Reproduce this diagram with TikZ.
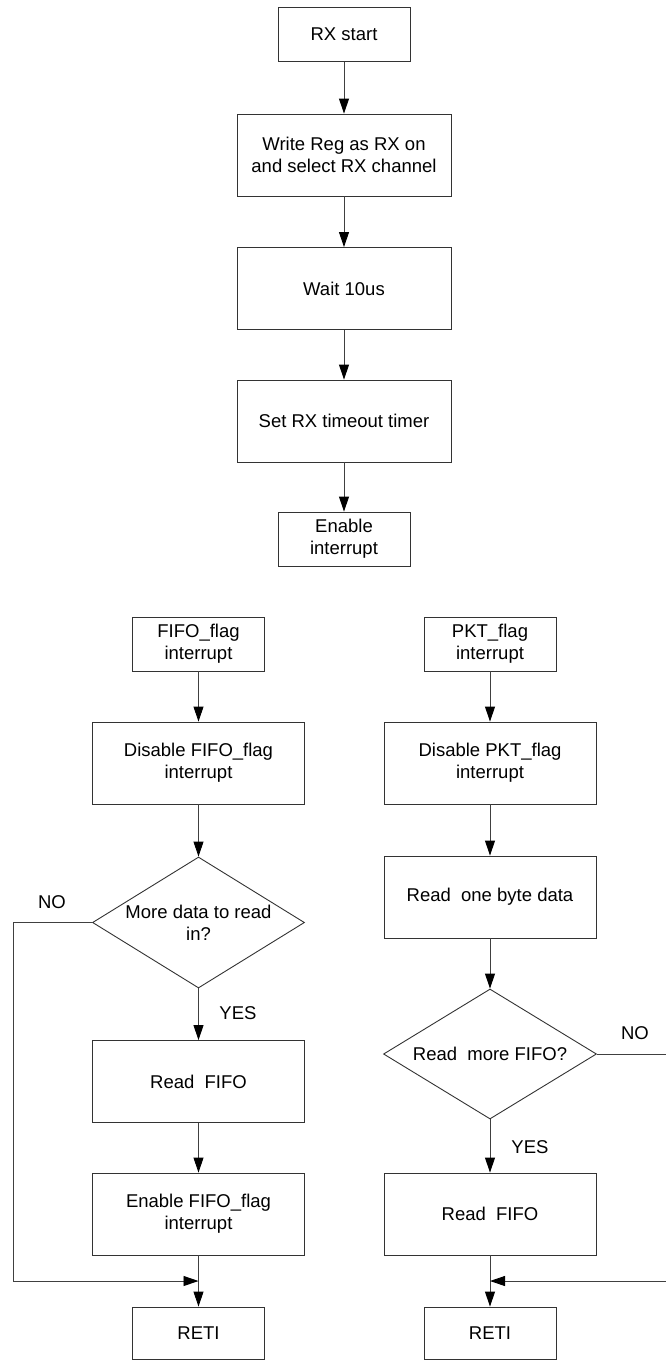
\documentclass[tikz,border=0pt]{standalone}
\usepackage{fontspec}
\setmainfont{Liberation Sans}
\usetikzlibrary{arrows.meta, shapes.geometric, positioning}

\tikzset{
  box/.style={draw=black!80, line width=0.9pt, minimum width=212pt, minimum height=82pt, align=center, inner sep=2pt},
  smallbox/.style={box, minimum width=132pt, minimum height=54pt},
  decide/.style={draw=black!80, line width=0.9pt, diamond, inner sep=0pt, minimum width=212pt, minimum height=131pt},
  decidetext/.style={align=center, inner sep=0pt},
  arr/.style={-{Triangle[length=15pt,width=10pt,color=black]}, draw=black!75, line width=0.9pt},
  tag/.style={inner sep=0pt}
}

\begin{document}
\begin{tikzpicture}[x=1pt, y=-1pt, font=\fontsize{18.5}{22}\selectfont]
    \useasboundingbox (0,0) rectangle (666,1360);

    % RX setup
    \node[smallbox] (start) at (344,34.5) {RX start};
    \node[box, minimum width=214pt] (wreg) at (344,155) {Write Reg as RX on\\and select RX channel};
    \node[box, minimum width=214pt] (wait) at (344,288.5) {Wait 10us};
    \node[box, minimum width=214pt] (tmo) at (344,421) {Set RX timeout timer};
    \node[smallbox] (enint) at (344,539) {Enable\\interrupt};

    \draw[arr] (start) -- (wreg);
    \draw[arr] (wreg) -- (wait);
    \draw[arr] (wait) -- (tmo);
    \draw[arr] (tmo) -- (enint);

    % FIFO_flag interrupt
    \node[smallbox] (fifoint) at (198.5,644) {FIFO\_flag\\interrupt};
    \node[box] (disfifo) at (198.5,763) {Disable FIFO\_flag\\interrupt};
    \node[decide] (moreq) at (198.5,922.5) {};
    \node[decidetext] (moreqtext) at (moreq.center) {More data to read\\in?};
    \node[box] (rfifoL) at (198.5,1081.5) {Read\ \ FIFO};
    \node[box] (enfifo) at (198.5,1214) {Enable FIFO\_flag\\interrupt};
    \node[smallbox, minimum height=52pt] (retiL) at (198.5,1333) {RETI};
    \node[tag] (noL) at (52,902) {NO};
    \node[tag] (yesL) at (238,1013) {YES};
    \coordinate (loopL) at (13,922.5);
    \coordinate (mergeL) at (198.5,1281);

    \draw[arr] (fifoint) -- (disfifo);
    \draw[arr] (disfifo) -- (moreq);
    \draw[arr] (moreq) -- (rfifoL);
    \draw[arr] (rfifoL) -- (enfifo);
    \draw[arr] (enfifo) -- (retiL);
    \draw[arr] (moreq.west) -- (loopL) |- (mergeL);

    % PKT_flag interrupt
    \node[smallbox] (pktint) at (490,644) {PKT\_flag\\interrupt};
    \node[box] (dispkt) at (490,763) {Disable PKT\_flag\\interrupt};
    \node[box] (rbyte) at (490,897) {Read\ \ one byte data};
    \node[decide, minimum width=213pt, minimum height=130pt] (moreR) at (490,1054) {};
    \node[decidetext] (moreRtext) at (moreR.center) {Read\ \ more FIFO?};
    \node[box] (rfifoR) at (490,1214) {Read\ \ FIFO};
    \node[smallbox, minimum height=52pt] (retiR) at (490,1333) {RETI};
    \node[tag] (noR) at (635,1033) {NO};
    \node[tag] (yesR) at (530,1147) {YES};
    \coordinate (loopR) at (670,1054);
    \coordinate (mergeR) at (490,1281);

    \draw[arr] (pktint) -- (dispkt);
    \draw[arr] (dispkt) -- (rbyte);
    \draw[arr] (rbyte) -- (moreR);
    \draw[arr] (moreR) -- (rfifoR);
    \draw[arr] (rfifoR) -- (retiR);
    \draw[arr] (moreR.east) -- (loopR) |- (mergeR);
\end{tikzpicture}
\end{document}
